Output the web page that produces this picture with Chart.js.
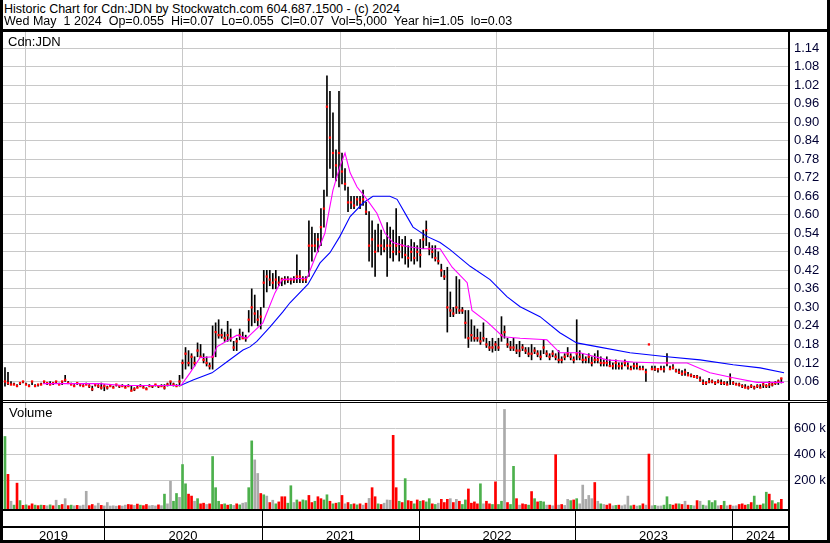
<!DOCTYPE html>
<html>
<head>
<meta charset="utf-8">
<script src="https://cdn.jsdelivr.net/npm/chart.js@4.4.1/dist/chart.umd.min.js"></script>
<style>
  body { margin: 0; background: #fff; }
  #wrap { position: relative; width: 830px; height: 543px; overflow: hidden; background: #fff;
          font-family: 'Liberation Sans', Arial, sans-serif; color: #000; }
  .txt { position: absolute; white-space: pre; font-size: 12.5px; line-height: 13px; z-index: 4; }
  .line { position: absolute; background: #000; z-index: 3; }
  canvas { position: absolute; }
</style>
</head>
<body>
<div id="wrap">
  <div class="txt" style="left:4px;top:3px">Historic Chart for Cdn:JDN by Stockwatch.com 604.687.1500 - (c) 2024</div>
  <div class="txt" style="left:4px;top:15px">Wed May  1 2024  Op=0.055  Hi=0.07  Lo=0.055  Cl=0.07  Vol=5,000  Year hi=1.05  lo=0.03</div>
  <div class="line" style="left:0;top:29px;width:830px;height:3px"></div>
  <canvas id="price" width="827" height="368" style="left:3px;top:32px"></canvas>
  <canvas id="vol" width="827" height="140" style="left:3px;top:403px"></canvas>
  <div class="txt" style="left:8px;top:35px;font-size:13px">Cdn:JDN</div>
  <div class="txt" style="left:9px;top:406px;font-size:13px">Volume</div>
  <div class="line" style="left:0;top:400px;width:830px;height:1px"></div>
  <div class="line" style="left:0;top:402px;width:830px;height:1px"></div>
  <div class="line" style="left:0;top:0;width:3px;height:543px"></div>
  <div class="line" style="left:827px;top:0;width:3px;height:543px"></div>
  <div class="line" style="left:0;top:540px;width:830px;height:3px"></div>
</div>
<script>
// weekly bars, first week starts Wed 15 May 2019
var START = Date.UTC(2019, 4, 15);
var years = ['2019', '2020', '2021', '2022', '2023', '2024'];
var priceTicks = [0.06, 0.12, 0.18, 0.24, 0.30, 0.36, 0.42, 0.48, 0.54, 0.60,
                  0.66, 0.72, 0.78, 0.84, 0.90, 0.96, 1.02, 1.08, 1.14];
var volTicks = [200000, 400000, 600000];

var hi = [
  .105,.09,.06,.055,.05,.055,.06,.055,.05,.06,
  .05,.05,.055,.06,.055,.06,.055,.06,.055,.06,
  .08,.06,.055,.05,.055,.05,.05,.055,.05,.045,
  .05,.05,.055,.05,.045,.05,.045,.05,.045,.05,
  .045,.05,.045,.04,.045,.05,.045,.04,.05,.045,
  .05,.045,.05,.05,.055,.06,.055,.05,.08,.13,
  .17,.16,.15,.14,.185,.18,.15,.14,.12,.24,
  .25,.26,.23,.22,.255,.23,.19,.2,.23,.22,
  .21,.29,.36,.34,.29,.3,.42,.42,.42,.41,
  .42,.4,.395,.4,.4,.395,.4,.47,.42,.4,
  .4,.58,.56,.54,.54,.62,.68,1.05,1.0,.93,
  .81,1.0,.8,.75,.69,.66,.66,.66,.66,.68,
  .64,.61,.58,.55,.57,.55,.52,.575,.56,.55,
  .62,.53,.52,.53,.5,.52,.51,.5,.52,.55,
  .58,.51,.5,.5,.48,.44,.42,.43,.35,.3,
  .4,.39,.3,.29,.29,.26,.24,.23,.22,.25,
  .2,.19,.2,.19,.2,.27,.24,.2,.19,.2,
  .18,.19,.18,.17,.17,.18,.17,.16,.16,.195,
  .16,.15,.16,.15,.16,.14,.15,.17,.15,.14,
  .26,.16,.15,.14,.15,.14,.15,.16,.14,.13,
  .14,.13,.12,.13,.12,.12,.13,.12,.11,.12,
  .12,.11,.11,.1,.18,.11,.11,.1,.11,.11,
  .15,.11,.115,.1,.1,.095,.1,.09,.085,.08,
  .08,.075,.065,.06,.07,.065,.06,.065,.065,.06,
  .06,.085,.06,.055,.055,.05,.05,.045,.05,.045,
  .05,.05,.055,.05,.06,.055,.06,.065,.07
];
var lo = [
  .045,.05,.05,.05,.045,.05,.055,.05,.045,.05,
  .045,.045,.05,.055,.05,.05,.05,.055,.05,.05,
  .06,.055,.05,.045,.05,.045,.045,.05,.04,.03,
  .045,.04,.035,.03,.035,.045,.04,.045,.04,.045,
  .04,.045,.03,.03,.04,.045,.04,.035,.045,.04,
  .045,.04,.045,.035,.045,.05,.045,.045,.045,.07,
  .1,.11,.1,.11,.14,.14,.12,.11,.1,.1,
  .14,.2,.2,.19,.19,.19,.16,.16,.195,.2,
  .19,.22,.24,.25,.24,.23,.3,.35,.37,.36,
  .36,.37,.37,.375,.38,.375,.38,.38,.38,.38,
  .38,.4,.45,.48,.48,.5,.56,.66,.75,.72,
  .71,.69,.7,.68,.61,.62,.62,.63,.62,.63,
  .6,.45,.43,.4,.48,.47,.48,.4,.46,.45,
  .47,.45,.46,.44,.43,.45,.44,.45,.43,.49,
  .5,.47,.46,.45,.44,.4,.39,.22,.27,.27,
  .28,.28,.28,.2,.17,.19,.19,.19,.18,.19,
  .17,.16,.155,.16,.16,.19,.2,.17,.16,.16,
  .15,.14,.16,.15,.14,.13,.15,.14,.13,.15,
  .14,.13,.14,.13,.12,.12,.13,.14,.13,.12,
  .13,.13,.12,.12,.12,.11,.12,.12,.11,.11,
  .11,.11,.1,.1,.1,.1,.11,.1,.1,.1,
  .1,.1,.1,.06,.18,.1,.095,.09,.1,.09,
  .11,.1,.1,.09,.085,.08,.08,.08,.075,.075,
  .07,.06,.05,.05,.055,.055,.05,.055,.05,.05,
  .05,.05,.05,.05,.045,.04,.04,.035,.04,.035,
  .04,.04,.04,.04,.04,.045,.05,.05,.055
];
var cl = [
  .06,.055,.05,.05,.045,.055,.06,.05,.045,.06,
  .045,.05,.05,.06,.055,.05,.055,.06,.05,.06,
  .065,.055,.05,.045,.055,.05,.045,.05,.045,.035,
  .05,.045,.04,.045,.04,.045,.04,.05,.045,.045,
  .04,.045,.03,.035,.04,.045,.04,.035,.045,.045,
  .05,.045,.045,.04,.05,.06,.05,.045,.06,.12,
  .15,.12,.14,.12,.16,.14,.13,.12,.11,.14,
  .22,.21,.21,.2,.21,.2,.17,.19,.21,.2,
  .2,.26,.3,.28,.26,.27,.38,.4,.39,.38,
  .39,.38,.39,.39,.39,.39,.39,.4,.4,.39,
  .39,.5,.5,.5,.52,.56,.62,.95,.85,.8,
  .76,.8,.74,.7,.64,.64,.63,.65,.64,.65,
  .61,.5,.52,.48,.5,.5,.49,.5,.5,.48,
  .5,.48,.5,.47,.46,.48,.46,.48,.47,.52,
  .55,.49,.48,.46,.45,.42,.4,.3,.29,.28,
  .3,.29,.29,.25,.2,.21,.2,.2,.19,.2,
  .18,.17,.17,.18,.17,.21,.22,.18,.17,.17,
  .16,.16,.17,.16,.15,.15,.16,.15,.14,.17,
  .15,.14,.15,.14,.13,.13,.14,.15,.14,.13,
  .15,.14,.13,.13,.14,.12,.13,.13,.12,.12,
  .12,.11,.11,.12,.11,.11,.12,.11,.1,.11,
  .11,.1,.1,.09,.18,.1,.1,.1,.1,.1,
  .12,.1,.105,.095,.09,.085,.09,.08,.08,.075,
  .075,.065,.055,.055,.06,.06,.055,.06,.055,.055,
  .05,.07,.055,.05,.05,.045,.04,.04,.045,.04,
  .045,.04,.05,.045,.05,.05,.055,.06,.07
];
// weekly volume in thousands of shares
var volK = [
  541,248,40,10,180,45,8,12,5,20,
  10,6,10,8,5,12,5,48,8,15,
  60,6,10,5,8,4,10,117,6,15,
  5,25,8,4,30,3,5,2,6,3,
  10,15,12,8,18,10,6,15,5,8,
  4,12,6,95,20,195,40,100,70,324,
  175,95,80,40,60,20,25,15,20,386,
  145,40,15,20,10,15,8,20,12,25,
  30,145,507,360,255,100,90,80,30,48,
  20,35,75,75,25,160,30,50,35,50,
  45,85,30,40,75,60,50,90,40,20,
  25,30,85,20,30,15,20,12,20,10,
  25,62,145,75,20,15,25,50,48,550,
  145,40,30,215,45,40,20,50,40,45,
  35,60,20,15,25,55,30,55,60,30,
  55,40,15,50,135,25,35,20,175,20,
  40,20,15,190,15,40,750,30,15,310,
  60,10,20,15,10,115,60,35,40,35,
  10,10,5,400,10,15,8,55,45,50,
  60,20,165,55,85,60,185,40,20,15,
  10,20,5,8,10,5,12,80,5,10,
  3,6,20,10,405,5,8,3,4,10,
  75,15,10,20,20,15,40,10,8,5,
  45,40,10,5,45,30,45,5,8,40,
  5,10,3,5,15,20,10,15,30,80,
  10,10,20,110,95,45,20,30,55
];
// g = up, r = down, n = unchanged
var volDir = (
  'grngrgrgrr' + 'grgrngrngr' + 'nrgnrnnnrr' + 'nnrnnnnnrn' + 'nrrnrgrrnn' +
  'nrngnnggng' + 'grrngrrnrg' + 'ggrgrgnrgn' + 'nggnnrgnrn' + 'grrrggngrg' +
  'grrgrrggrg' + 'rgrnrgrgrn' + 'rnrrgrnnnr' + 'rgrgrrgrgr' + 'ggrgnrrrnr' +
  'nrggrrrrgn' + 'rrgrggnrgg' + 'rnrrgrgrgg' + 'nrnrnrnngr' + 'gnnnnnrngn' +
  'rrngrnnngr' + 'ngrnrngnng' + 'ggrrgrnrgn' + 'rngngggnrg' + 'nrnnrrrgrg' +
  'grggrgrgr').split('');

// moving averages: [week, price]
var maShort = [
  [12.6,.053],[31.6,.053],[39.2,.047],[58.5,.047],[61.5,.088],[64.8,.137],[69.1,.14],
  [70.5,.173],[77.1,.21],[80.4,.2],[81.4,.21],[85.7,.25],[89.7,.347],[92.1,.39],
  [100.4,.395],[103.7,.477],[106.3,.54],[109,.68],[111.3,.756],[113,.8],[114.7,.736],
  [117,.69],[120.3,.65],[123.6,.605],[126.3,.54],[128.9,.51],[133.6,.497],[138.9,.49],
  [144.6,.49],[148.6,.43],[153.6,.38],[155.2,.29],[160.2,.253],[165.5,.205],[171.2,.2],
  [180.1,.195],[184.4,.153],[191.1,.153],[200.1,.13],[208.7,.123],[217.7,.12],
  [226.7,.12],[234.3,.088],[242,.072],[249.9,.057],[258.9,.057]
];
var maLong = [
  [42.5,.047],[58.5,.048],[62.5,.065],[68.8,.088],[73.8,.124],[79.1,.162],[81.4,.172],
  [83.7,.19],[88.1,.237],[92.4,.286],[94.7,.315],[100.7,.375],[104.7,.444],[108,.477],
  [111.3,.53],[114.7,.594],[119,.638],[122.3,.66],[127.9,.66],[130.3,.65],[133.6,.594],
  [135.6,.56],[140.2,.53],[144.6,.51],[147.9,.487],[154.6,.433],[161.2,.39],[166.8,.335],
  [171.2,.302],[177.8,.27],[184.4,.218],[190,.185],[196.7,.173],[207.7,.153],[220,.14],
  [231,.13],[242,.114],[251,.104],[258.9,.088]
];

var dirColor = { g: '#4cb04c', r: '#ff0000', n: '#aaaaaa' };
var gridColor = '#c8c8c8';
var xMin = -0.66, xMax = 260.55;

function weekOf(y) { return (Date.UTC(y, 0, 1) - START) / (7 * 864e5); }
var yearEdges = [2020, 2021, 2022, 2023, 2024].map(weekOf);

Chart.defaults.font.family = "'Liberation Sans', Arial, sans-serif";
Chart.defaults.font.size = 13;
Chart.defaults.color = '#000033';

function xScale() {
  return {
    type: 'linear', min: xMin, max: xMax, offset: false,
    afterBuildTicks: function (s) { s.ticks = yearEdges.map(function (v) { return { value: v }; }); },
    afterFit: function (s) { s.height = 0; s.paddingLeft = 0; s.paddingRight = 0; },
    ticks: { display: false },
    grid: { color: gridColor, drawTicks: false },
    border: { display: false }
  };
}

// right-hand value axis, no extra room above/below the plot
function yScale(min, max, ticks, fmt) {
  return {
    position: 'right', min: min, max: max,
    afterBuildTicks: function (s) { s.ticks = ticks.map(function (v) { return { value: v }; }); },
    afterFit: function (s) { s.width = 41; s.paddingTop = 0; s.paddingBottom = 0; },
    ticks: { padding: 5, callback: fmt },
    grid: { color: gridColor, drawTicks: false },
    border: { color: '#000', width: 2 }
  };
}

var priceBars = hi.map(function (h, i) { return { x: i, y: [lo[i], h] }; });
var closeMarks = cl.map(function (c, i) { return { x: i, y: c }; });
function pts(a) { return a.map(function (p) { return { x: p[0], y: p[1] }; }); }

new Chart(document.getElementById('price'), {
  type: 'bar',
  data: {
    datasets: [
      { type: 'line', data: pts(maShort), borderColor: '#ff00ff', borderWidth: 1.1,
        pointRadius: 0, tension: 0, order: 0 },
      { type: 'line', data: pts(maLong), borderColor: '#0000ff', borderWidth: 1.1,
        pointRadius: 0, tension: 0, order: 0 },
      { type: 'line', data: closeMarks, showLine: false, pointStyle: 'rect',
        pointRadius: 1.6, pointBorderWidth: 0, pointBackgroundColor: '#ff0000', order: 1 },
      { type: 'bar', data: priceBars, backgroundColor: '#000000', barThickness: 1,
        borderWidth: 0, order: 2 }
    ]
  },
  options: {
    responsive: false, animation: false, devicePixelRatio: 1, events: [],
    layout: { padding: 0, autoPadding: false },
    plugins: { legend: { display: false }, tooltip: { enabled: false } },
    scales: {
      x: xScale(),
      y: yScale(0, 1.192, priceTicks, function (v) { return v.toFixed(2); })
    }
  }
});

var yearBand = {
  id: 'yearBand',
  afterDraw: function (c) {
    var ctx = c.ctx, a = c.chartArea, x = c.scales.x;
    var edges = [a.left].concat(yearEdges.map(function (v) { return Math.round(x.getPixelForValue(v)); }), [a.right]);
    ctx.save();
    ctx.fillStyle = '#000';
    ctx.fillRect(0, a.bottom, a.right, 2);
    ctx.fillRect(0, a.bottom + 17, a.right, 2);
    ctx.fillRect(a.right - 1, a.bottom, 2, c.height - a.bottom);
    for (var k = 1; k < edges.length - 1; k++) ctx.fillRect(edges[k], a.bottom, 1, c.height - a.bottom);
    ctx.font = "13px 'Liberation Sans', Arial, sans-serif";
    ctx.textAlign = 'center';
    ctx.textBaseline = 'middle';
    ctx.fillStyle = '#000';
    years.forEach(function (y, k) {
      ctx.fillText(y, (edges[k] + edges[k + 1]) / 2, a.bottom + 27);
    });
    ctx.restore();
  }
};

new Chart(document.getElementById('vol'), {
  type: 'bar',
  data: {
    datasets: [{
      data: volK.map(function (v, i) { return { x: i, y: v * 1000 }; }),
      backgroundColor: volDir.map(function (d) { return dirColor[d]; }),
      barThickness: 2, borderWidth: 0, base: -20000
    }]
  },
  options: {
    responsive: false, animation: false, devicePixelRatio: 1, events: [],
    layout: { padding: { bottom: 34 }, autoPadding: false },
    plugins: { legend: { display: false }, tooltip: { enabled: false } },
    scales: {
      x: xScale(),
      y: yScale(-20000, 800000, volTicks, function (v) { return (v / 1000) + ' k'; })
    }
  },
  plugins: [yearBand]
});
</script>
</body>
</html>
